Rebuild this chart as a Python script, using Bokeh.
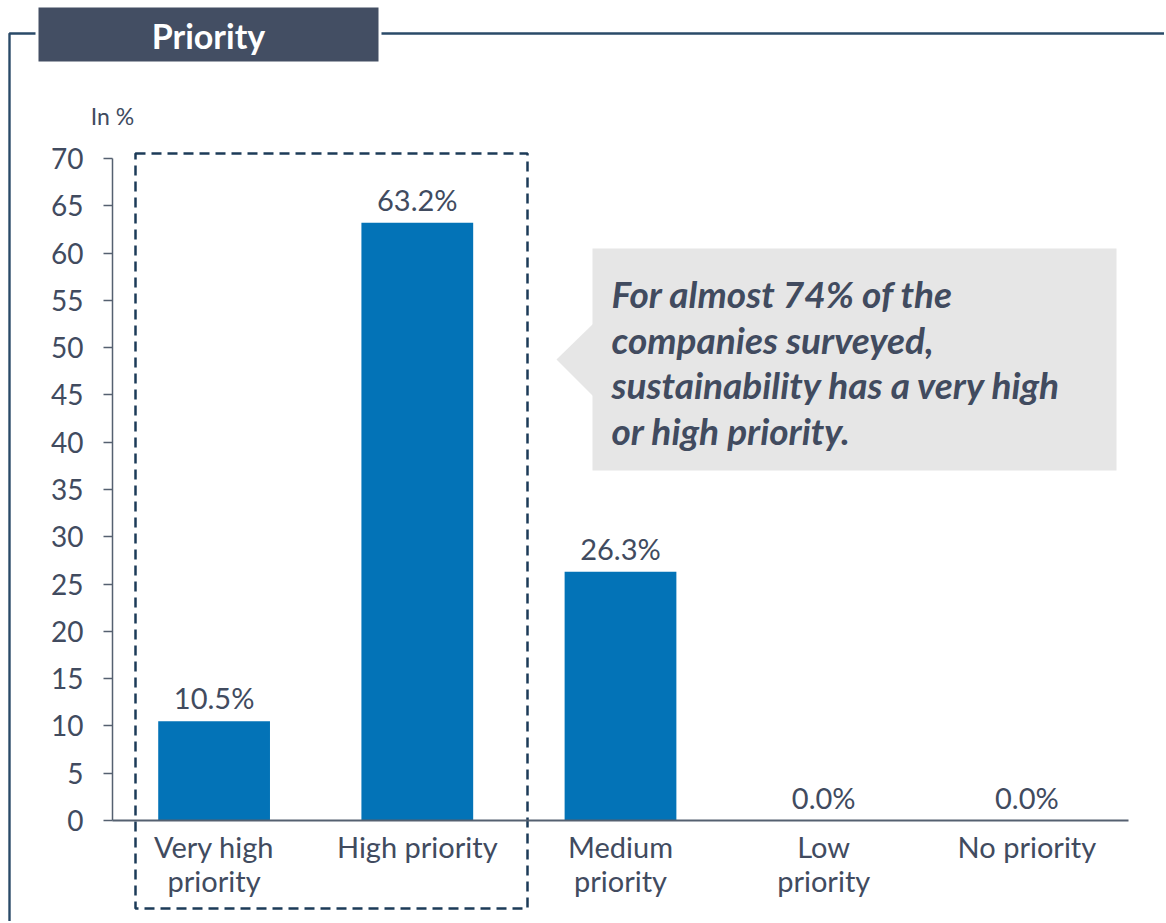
from bokeh.plotting import figure
from bokeh.models import Range1d, FixedTicker, ColumnDataSource
from bokeh.core.properties import value
from bokeh.embed import file_html
from bokeh.resources import INLINE

# ---------------- data ----------------
categories = ["Very high\npriority", "High priority", "Medium\npriority", "Low\npriority", "No priority"]
shares = [10.5, 63.2, 26.3, 0.0, 0.0]
share_labels = ["10.5%", "63.2%", "26.3%", "0.0%", "0.0%"]
y_ticks = [0, 5, 10, 15, 20, 25, 30, 35, 40, 45, 50, 55, 60, 65, 70]
title_text = "Priority"
unit_text = "In %"
note_lines = ["For almost 74% of the", "companies surveyed,", "sustainability has a very high", "or high priority."]

# ---------------- style ----------------
FONT = "Lato"
TEXT = "#414B5F"
AXIS = "#556070"
BAR = "#0373B7"
HEADER = "#434E63"
BORDER = "#2A4A68"
DASH = "#1C3B58"
NOTE_BG = "#E6E6E6"

W, H = 1164, 921
# pixel geometry of the chart area inside the canvas
FL, FR, FT, FB = 112, 1128, 158, 820
YMAX = 70
nc = len(categories)

def X(px):
    return (px - FL) / (FR - FL) * nc

def Y(py):
    return (FB - py) / (FB - FT) * YMAX

p = figure(width=W, height=H,
           x_range=Range1d(X(0), X(W)), y_range=Range1d(Y(H), Y(0)),
           output_backend="svg", toolbar_location=None,
           min_border=0, min_border_left=0, min_border_right=0,
           min_border_top=0, min_border_bottom=0,
           background_fill_color="white", border_fill_color="white",
           outline_line_color=None)
p.xgrid.visible = False
p.ygrid.visible = False

x_pos = [i + 0.5 for i in range(nc)]

# y axis (placed at the left edge of the category span)
yax = p.yaxis[0]
yax.fixed_location = 0
yax.bounds = (0, YMAX)
yax.ticker = FixedTicker(ticks=y_ticks)
yax.minor_tick_line_color = None
yax.major_tick_in = 0
yax.major_tick_out = 9
yax.major_tick_line_color = AXIS
yax.major_tick_line_width = 1.5
yax.axis_line_color = AXIS
yax.axis_line_width = 1.5
yax.major_label_standoff = 20
yax.major_label_text_font = FONT
yax.major_label_text_font_size = "28px"
yax.major_label_text_color = TEXT

# x axis (placed at y = 0)
xax = p.xaxis[0]
xax.fixed_location = 0
xax.bounds = (0, nc)
xax.ticker = FixedTicker(ticks=x_pos)
xax.major_label_overrides = {x: c for x, c in zip(x_pos, categories)}
xax.minor_tick_line_color = None
xax.major_tick_line_color = None
xax.major_tick_in = 0
xax.major_tick_out = 0
xax.axis_line_color = AXIS
xax.axis_line_width = 2
xax.major_label_standoff = 8
xax.major_label_text_font = FONT
xax.major_label_text_font_size = "29px"
xax.major_label_text_color = TEXT
xax.major_label_text_line_height = 0.98
xax.major_label_orientation = "horizontal"

# bars + value labels
src = ColumnDataSource(dict(x=x_pos, cat=categories, val=shares, lbl=share_labels))
p.vbar(x="x", top="val", width=0.55, source=src, fill_color=BAR, line_color=None)
p.text(x="x", y="val", text="lbl", source=src, y_offset=-6,
       text_align="center", text_baseline="bottom",
       text_font=value(FONT), text_font_size="29px", text_color=TEXT)

# callout box with pointer
p.quad(left=[X(592)], right=[X(1116)], top=[Y(248)], bottom=[Y(470)],
       fill_color=NOTE_BG, line_color=None)
p.patch(x=[X(593), X(556), X(593)], y=[Y(323), Y(359), Y(396)],
        fill_color=NOTE_BG, line_color=None)
note_y = [Y(293 + i * 45.6) for i in range(len(note_lines))]
p.text(x=[X(611)] * len(note_lines), y=note_y, text=note_lines,
       text_align="left", text_baseline="middle",
       text_font=value(FONT), text_font_size="37px", text_font_style="bold italic",
       text_color=TEXT)

# dashed highlight box around the first two categories
p.quad(left=[X(135)], right=[X(527)], top=[Y(153)], bottom=[Y(908)],
       fill_color=None, line_color=DASH, line_width=2.5, line_dash="10 6")

# outer frame lines
p.multi_line(xs=[[X(9), X(9), X(35)], [X(381), X(W + 5)]],
             ys=[[Y(H + 5), Y(33), Y(33)], [Y(33), Y(33)]],
             line_color=BORDER, line_width=2.4)

# header box
p.quad(left=[X(38)], right=[X(378)], top=[Y(7)], bottom=[Y(61)],
       fill_color=HEADER, line_color=None)
p.text(x=[X(208)], y=[Y(35)], text=[title_text], text_align="center",
       text_baseline="middle", text_font=value(FONT), text_font_size="34px",
       text_font_style="bold", text_color="white")

# unit label
p.text(x=[X(112)], y=[Y(115)], text=[unit_text], text_align="center",
       text_baseline="middle", text_font=value(FONT), text_font_size="23px",
       text_color=TEXT)

open("out.html", "w").write(file_html(p, INLINE))
